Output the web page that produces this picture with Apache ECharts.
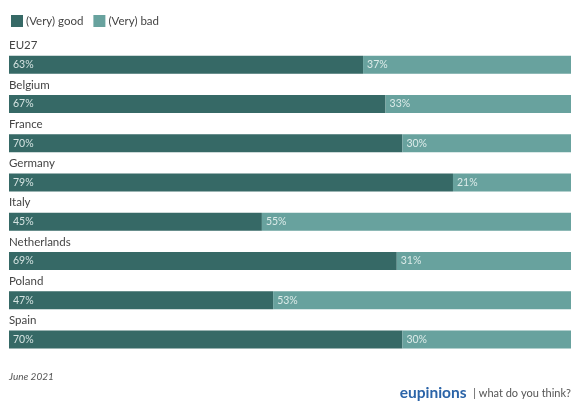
<!DOCTYPE html>
<html>
<head>
<meta charset="utf-8">
<script src="https://cdn.jsdelivr.net/npm/echarts@6/dist/echarts.min.js"></script>
<style>
  html, body { margin: 0; padding: 0; background: #fff; }
  #chart { width: 573px; height: 402px; }
</style>
</head>
<body>
<div id="chart"></div>
<script>
// 国家 / 分类
var countries = ['EU27', 'Belgium', 'France', 'Germany', 'Italy', 'Netherlands', 'Poland', 'Spain'];
// (Very) good 百分比
var goodVals = [63, 67, 70, 79, 45, 69, 47, 70];
// (Very) bad 百分比
var badVals  = [37, 33, 30, 21, 55, 31, 53, 30];

var seriesNames = ['(Very) good', '(Very) bad'];
var colGood = '#366966';
var colBad  = '#68a29e';

var myChart = echarts.init(document.getElementById('chart'));
var option = {
    animation: false,
    textStyle: { fontFamily: 'Lato' },
    legend: {
        data: seriesNames,
        left: 6,
        top: 10,
        itemWidth: 12,
        itemHeight: 12,
        itemGap: 10,
        icon: 'rect',
        textStyle: { fontFamily: 'Lato', fontSize: 11.5, color: '#444', padding: [0, 0, 0, -2] }
    },
    grid: {
        left: 9,
        right: 2,
        top: 45,
        bottom: 43,
        containLabel: false
    },
    xAxis: {
        type: 'value',
        min: 0,
        max: 100,
        show: false
    },
    yAxis: {
        type: 'category',
        data: countries,
        inverse: true,
        axisLine: { show: false },
        axisTick: { show: false },
        splitLine: { show: false },
        axisLabel: {
            inside: true,
            margin: 0,
            align: 'left',
            verticalAlign: 'bottom',
            padding: [0, 0, 13, 0],
            fontFamily: 'Lato',
            fontSize: 11.5,
            color: '#444'
        }
    },
    series: [
        {
            name: seriesNames[0],
            type: 'bar',
            stack: 'total',
            barWidth: 18,
            data: goodVals,
            itemStyle: { color: colGood },
            label: {
                show: true,
                position: 'insideLeft',
                distance: 4,
                formatter: '{c}%',
                fontFamily: 'Lato',
                fontSize: 10.5,
                color: '#d5e3e1'
            }
        },
        {
            name: seriesNames[1],
            type: 'bar',
            stack: 'total',
            barWidth: 18,
            data: badVals,
            itemStyle: { color: colBad },
            label: {
                show: true,
                position: 'insideLeft',
                distance: 4,
                formatter: '{c}%',
                fontFamily: 'Lato',
                fontSize: 10.5,
                color: '#dcebe9'
            }
        }
    ],
    graphic: [
        {
            type: 'text',
            left: 9,
            top: 372,
            style: {
                text: 'June 2021',
                font: 'italic 10px Lato',
                fill: '#555'
            }
        },
        {
            type: 'text',
            right: 2,
            top: 385,
            style: {
                text: '{b|eupinions}  {s|| what do you think?}',
                rich: {
                    b: { fontFamily: 'Lato', fontWeight: 'bold', fontSize: 15.5, fill: '#2b64a8' },
                    s: { fontFamily: 'Lato', fontSize: 11, fill: '#555' }
                }
            }
        }
    ]
};
// 使用刚指定的配置项和数据显示图表。
myChart.setOption(option);
</script>
</body>
</html>
